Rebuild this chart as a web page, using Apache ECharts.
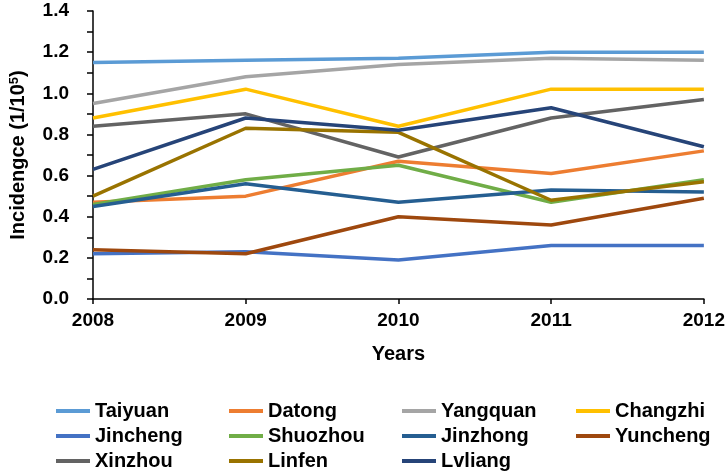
<!DOCTYPE html>
<html>
<head>
<meta charset="utf-8">
<script src="https://cdn.jsdelivr.net/npm/echarts@6/dist/echarts.min.js"></script>
<style>html,body{margin:0;padding:0;background:#fff}#c{width:728px;height:474px}</style>
</head>
<body>
<div id="c"></div>
<script>
const years = ['2008', '2009', '2010', '2011', '2012'];
const Taiyuan  = [1.15, 1.16, 1.17, 1.20, 1.20];
const Datong   = [0.47, 0.50, 0.67, 0.61, 0.72];
const Yangquan = [0.95, 1.08, 1.14, 1.17, 1.16];
const Changzhi = [0.88, 1.02, 0.84, 1.02, 1.02];
const Jincheng = [0.22, 0.23, 0.19, 0.26, 0.26];
const Shuozhou = [0.46, 0.58, 0.65, 0.47, 0.58];
const Jinzhong = [0.45, 0.56, 0.47, 0.53, 0.52];
const Yuncheng = [0.24, 0.22, 0.40, 0.36, 0.49];
const Xinzhou  = [0.84, 0.90, 0.69, 0.88, 0.97];
const Linfen   = [0.50, 0.83, 0.81, 0.48, 0.57];
const Lvliang  = [0.63, 0.88, 0.82, 0.93, 0.74];

const names = ['Taiyuan','Datong','Yangquan','Changzhi','Jincheng','Shuozhou','Jinzhong','Yuncheng','Xinzhou','Linfen','Lvliang'];
const values = [Taiyuan, Datong, Yangquan, Changzhi, Jincheng, Shuozhou, Jinzhong, Yuncheng, Xinzhou, Linfen, Lvliang];
const colors = ['#5B9BD5','#ED7D31','#A5A5A5','#FFC000','#4472C4','#70AD47','#255E91','#9E480E','#636363','#997300','#264478'];

const FONT = '"Liberation Sans", Arial, sans-serif';
const chart = echarts.init(document.getElementById('c'), null, {renderer: 'canvas'});

const legendCols = [
  ['Taiyuan','Jincheng','Xinzhou'],
  ['Datong','Shuozhou','Linfen'],
  ['Yangquan','Jinzhong','Lvliang'],
  ['Changzhi','Yuncheng']
];
const legendLefts = [56, 229, 402, 576];

chart.setOption({
  animation: false,
  color: colors,
  grid: {left: 87, right: 24, top: 11, bottom: 175, containLabel: false},
  legend: legendCols.map((d, i) => ({
    data: d,
    orient: 'vertical',
    left: legendLefts[i],
    top: 401,
    height: 120,
    padding: 0,
    itemWidth: 34,
    itemHeight: 4,
    itemGap: 5,
    icon: 'rect',
    selectedMode: false,
    textStyle: {fontFamily: FONT, fontWeight: 'bold', fontSize: 20, lineHeight: 20, color: '#000'}
  })),
  xAxis: {
    type: 'category',
    data: years,
    boundaryGap: false,
    name: 'Years',
    nameLocation: 'middle',
    nameGap: 45,
    nameTextStyle: {fontFamily: FONT, fontWeight: 'bold', fontSize: 20, color: '#000'},
    axisLine: {lineStyle: {color: '#000', width: 1.5}},
    axisTick: {show: true, length: 5, alignWithLabel: true, lineStyle: {color: '#000', width: 1.5}},
    axisLabel: {fontFamily: FONT, fontWeight: 'bold', fontSize: 19, color: '#000', margin: 12},
    splitLine: {show: false}
  },
  yAxis: {
    type: 'value',
    min: 0, max: 1.4, interval: 0.2,
    name: '{a|Incidengce (1/10}{s|5}{a|)}',
    nameLocation: 'middle',
    nameRotate: 90,
    nameGap: 64,
    nameTextStyle: {
      rich: {
        a: {fontFamily: FONT, fontWeight: 'bold', fontSize: 20, color: '#000'},
        s: {fontFamily: FONT, fontWeight: 'bold', fontSize: 13, color: '#000', padding: [0,0,8,0]}
      }
    },
    axisLine: {show: true, lineStyle: {color: '#000', width: 1.5}},
    axisTick: {show: true, length: 6, lineStyle: {color: '#000', width: 1.5}},
    minorTick: {show: true, splitNumber: 2, length: 6, lineStyle: {color: '#000', width: 1.5}},
    axisLabel: {fontFamily: FONT, fontWeight: 'bold', fontSize: 19, color: '#000', margin: 24,
      formatter: v => v.toFixed(1)},
    splitLine: {show: false}
  },
  series: names.map((n, i) => ({
    name: n,
    type: 'line',
    data: values[i],
    symbol: 'none',
    lineStyle: {width: 3.5, color: colors[i]},
    itemStyle: {color: colors[i]}
  }))
});
</script>
</body>
</html>
